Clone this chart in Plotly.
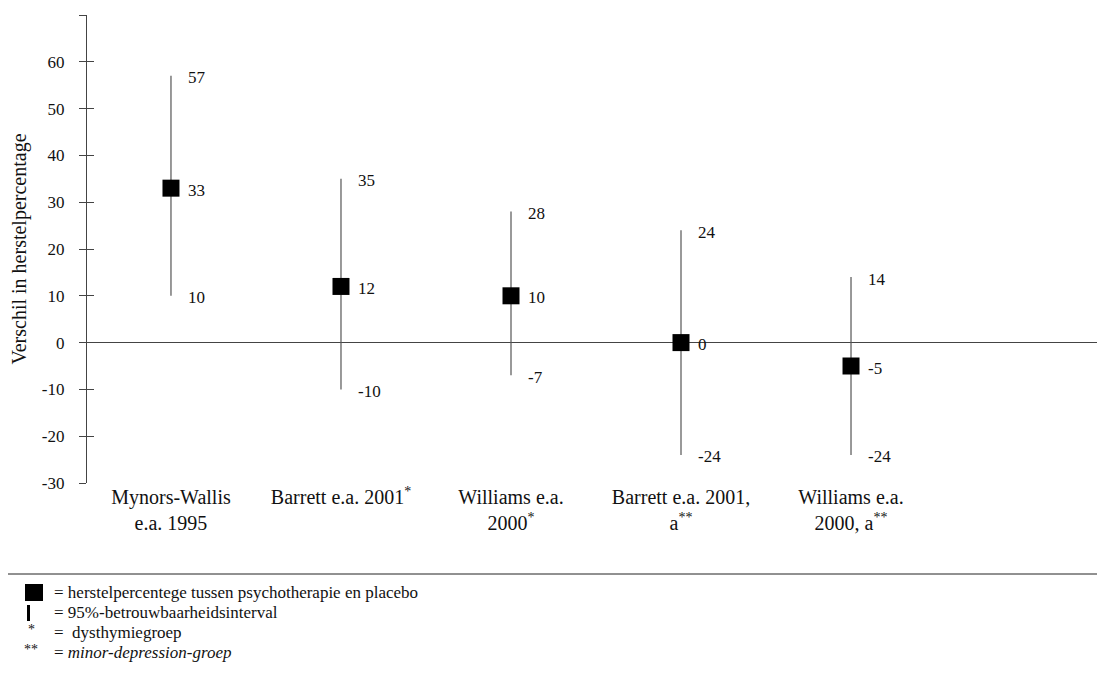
import plotly.graph_objects as go

studies = ["Mynors-Wallis<br>e.a. 1995", "Barrett e.a. 2001<sup>*</sup>", "Williams e.a.<br>2000<sup>*</sup>",
           "Barrett e.a. 2001,<br>a<sup>**</sup>", "Williams e.a.<br>2000, a<sup>**</sup>"]
estimate = [33, 12, 10, 0, -5]
lower = [10, -10, -7, -24, -24]
upper = [57, 35, 28, 24, 14]
ytick_vals = [-30, -20, -10, 0, 10, 20, 30, 40, 50, 60, 70]
ytick_text = ["-30", "-20", "-10", "0", "10", "20", "30", "40", "50", "60", " "]

xpos = list(range(len(studies)))
FONT = "Liberation Serif, Times New Roman, serif"
# page has an 8px body margin; figure is sized to fit the window
W, H = 1097, 672
L, R, T, B = 79, 0, 7, 197
pw, ph = W - L - R, H - T - B

def px(X):  # screen x -> paper
    return (X - 8 - L) / pw

def py(Y):  # screen y -> paper
    return (8 + T + ph - Y) / ph

fig = go.Figure()
fig.add_trace(go.Scatter(
    x=xpos, y=estimate, mode="markers",
    marker=dict(symbol="square", size=17, color="black"),
    error_y=dict(type="data", symmetric=False,
                 array=[u - e for u, e in zip(upper, estimate)],
                 arrayminus=[e - l for e, l in zip(estimate, lower)],
                 color="#555555", thickness=1.2, width=0),
    showlegend=False, hoverinfo="skip"))
fig.add_trace(go.Scatter(x=[0], y=[0], yaxis="y2", mode="markers",
                         marker=dict(opacity=0), showlegend=False, hoverinfo="skip"))

for i in range(len(studies)):
    for v in (upper[i], estimate[i], lower[i]):
        fig.add_annotation(x=xpos[i], y=v, text=str(v), showarrow=False,
                           xanchor="left", yanchor="middle", xshift=15, yshift=-2,
                           font=dict(family=FONT, size=17, color="#111"))

# legend block
shapes = [
    dict(type="line", xref="paper", yref="paper", x0=px(8), x1=px(1105), y0=py(574), y1=py(574),
         line=dict(color="#222", width=1)),
    dict(type="rect", xref="paper", yref="paper", x0=px(25), x1=px(43), y0=py(601), y1=py(584),
         fillcolor="black", line=dict(width=0)),
    dict(type="rect", xref="paper", yref="paper", x0=px(27), x1=px(30), y0=py(621), y1=py(605),
         fillcolor="black", line=dict(width=0)),
]
legend_rows = [
    ("", "= herstelpercentege tussen psychotherapie en placebo", 592),
    ("", "= 95%-betrouwbaarheidsinterval", 612),
    ("*", "=  dysthymiegroep", 632),
    ("**", "= <i>minor-depression-groep</i>", 652),
]
for sym, txt, Y in legend_rows:
    fig.add_annotation(xref="paper", yref="paper", x=px(52), y=py(Y), text=txt, showarrow=False,
                       xanchor="left", yanchor="middle", font=dict(family=FONT, size=17, color="#111"))
    if sym:
        fig.add_annotation(xref="paper", yref="paper", x=px(31), y=py(Y - 3), text=sym, showarrow=False,
                           xanchor="center", yanchor="middle", font=dict(family=FONT, size=14, color="#111"))

fig.update_layout(
    width=W, height=H, margin=dict(l=L, r=R, t=T, b=B),
    paper_bgcolor="white", plot_bgcolor="white",
    font=dict(family=FONT, color="#111"),
    shapes=shapes,
    xaxis=dict(range=[-0.494, 5.494], tickvals=xpos, ticktext=studies, showgrid=False,
               zeroline=False, showline=False, ticks="", ticklabelstandoff=0,
               tickfont=dict(family=FONT, size=20, color="#111")),
    yaxis=dict(range=[-30, 70], tickvals=ytick_vals, ticktext=ytick_text, showgrid=False,
               zeroline=True, zerolinecolor="#444", zerolinewidth=1.2,
               showline=True, linecolor="#444", linewidth=1.3,
               ticks="outside", ticklen=7, tickcolor="#444", tickwidth=1.2,
               ticklabelstandoff=11,
               tickfont=dict(family=FONT, size=17, color="#111"),
               title=dict(text="Verschil in herstelpercentage", standoff=14,
                          font=dict(family=FONT, size=20, color="#111"))),
    yaxis2=dict(range=[-30, 70], overlaying="y", side="left", tickvals=ytick_vals,
                showticklabels=False, showgrid=False, zeroline=False, showline=False,
                ticks="inside", ticklen=7, tickcolor="#444", tickwidth=1.2),
)

fig.write_html("out.html")
